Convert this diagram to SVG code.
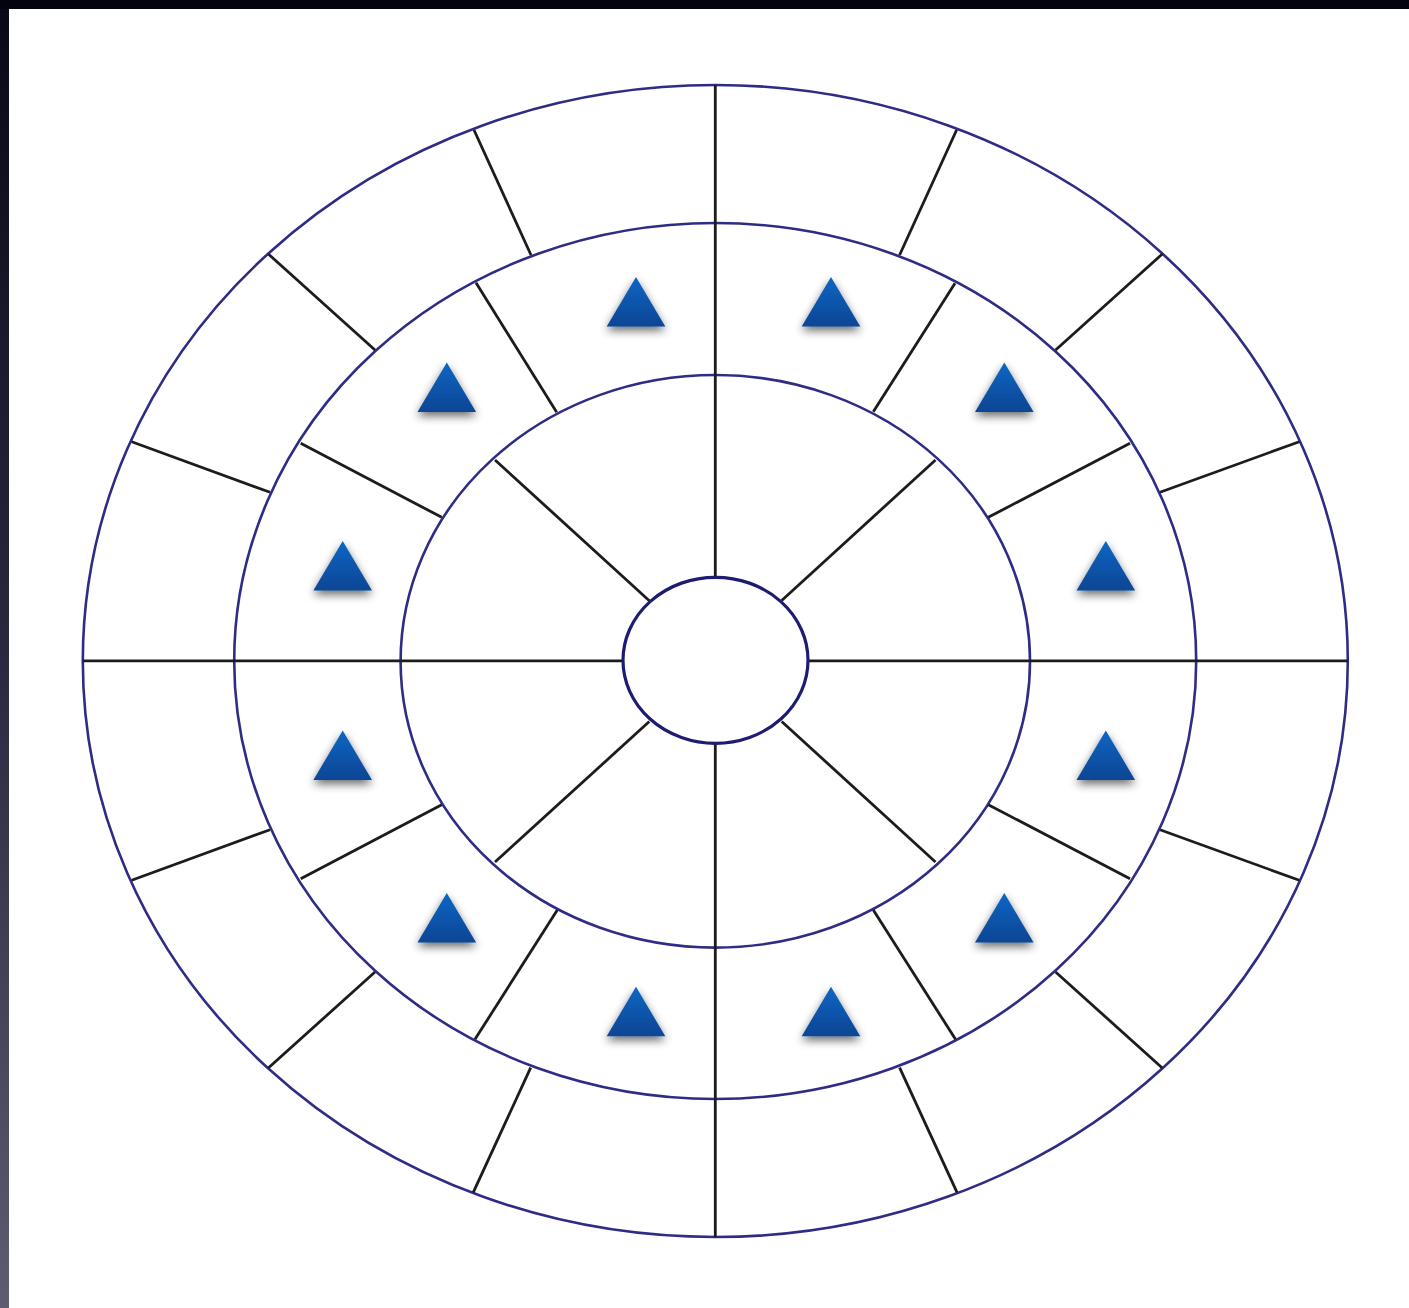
<svg xmlns="http://www.w3.org/2000/svg" width="1409" height="1308" viewBox="0 0 1409 1308">
<defs>
<linearGradient id="side" x1="0" y1="0" x2="0" y2="1">
<stop offset="0" stop-color="#080818"/>
<stop offset="0.5" stop-color="#2a2840"/>
<stop offset="1" stop-color="#5e5c72"/>
</linearGradient>
<linearGradient id="tri" x1="0" y1="0" x2="0" y2="1">
<stop offset="0" stop-color="#0a66c4"/>
<stop offset="1" stop-color="#0a4594"/>
</linearGradient>
<filter id="shadow" x="-50%" y="-50%" width="200%" height="200%">
<feGaussianBlur in="SourceAlpha" stdDeviation="5"/>
<feOffset dx="0" dy="4" result="b"/>
<feComponentTransfer><feFuncA type="linear" slope="0.6"/></feComponentTransfer>
<feMerge><feMergeNode/><feMergeNode in="SourceGraphic"/></feMerge>
</filter>
<polygon id="t" points="0,0 29.3,49.5 -29.3,49.5" fill="url(#tri)"/>
</defs>
<style>
.ring{fill:none;stroke:#2e2c84;stroke-width:2.6}
.core{fill:#fff;stroke:#1e1c70;stroke-width:3.2}
.spoke{stroke:#1c1c1c;stroke-width:2.8;fill:none}
</style>
<rect x="0" y="0" width="1409" height="1308" fill="#fff"/>
<rect x="0" y="0" width="9" height="1308" fill="url(#side)"/>
<rect x="0" y="0" width="1409" height="9" fill="#03030f"/>

<g id="rings">
<ellipse id="ring-outer" class="ring" cx="715.3" cy="661" rx="632.5" ry="576"/>
<ellipse id="ring-middle" class="ring" cx="715.2" cy="661" rx="481" ry="438"/>
<ellipse id="ring-inner" class="ring" cx="715.3" cy="661.3" rx="314.7" ry="286.3"/>
</g>

<g id="connectors" class="spoke">
<line x1="715.3" y1="85" x2="715.3" y2="577"/>
<line x1="715.3" y1="744" x2="715.3" y2="1237"/>
<line x1="82.8" y1="660.8" x2="623" y2="660.8"/>
<line x1="808" y1="660.8" x2="1347.8" y2="660.8"/>
<line x1="649.3" y1="600.7" x2="495" y2="460"/>
<line x1="781.7" y1="600.5" x2="935.5" y2="460"/>
<line x1="649.3" y1="721.5" x2="495" y2="862"/>
<line x1="781.7" y1="721.5" x2="935.5" y2="862"/>
<line x1="441.7" y1="517.3" x2="300.7" y2="443.3"/>
<line x1="556.7" y1="412.3" x2="476" y2="282.7"/>
<line x1="873.3" y1="411.7" x2="955" y2="283.3"/>
<line x1="988.3" y1="517.3" x2="1130" y2="443.3"/>
<line x1="441.7" y1="804.7" x2="300.7" y2="878.7"/>
<line x1="557.3" y1="910" x2="475" y2="1039.3"/>
<line x1="873.3" y1="910" x2="955.5" y2="1039.3"/>
<line x1="988.3" y1="804.7" x2="1130" y2="878.7"/>
<line x1="270" y1="492.3" x2="131.7" y2="441.7"/>
<line x1="375" y1="350" x2="268.3" y2="254"/>
<line x1="531" y1="255" x2="474" y2="130"/>
<line x1="899.6" y1="255" x2="956.6" y2="130"/>
<line x1="1055.6" y1="350" x2="1162.3" y2="254"/>
<line x1="1160" y1="492.3" x2="1299.3" y2="441.7"/>
<line x1="270" y1="829.7" x2="131.7" y2="880.3"/>
<line x1="375" y1="972" x2="268.3" y2="1068"/>
<line x1="530.7" y1="1067.7" x2="473.3" y2="1192.3"/>
<line x1="899.6" y1="1067.7" x2="957" y2="1192.3"/>
<line x1="1055.6" y1="972" x2="1162.3" y2="1068"/>
<line x1="1160" y1="829.7" x2="1299.3" y2="880.3"/>
</g>

<g id="center">
<ellipse class="core" cx="715.5" cy="660.3" rx="92.5" ry="83"/>
</g>

<g id="markers" filter="url(#shadow)">
<g id="m1"><use href="#t" x="636" y="277"/></g>
<g id="m2"><use href="#t" x="831" y="277"/></g>
<g id="m3"><use href="#t" x="446.8" y="362.5"/></g>
<g id="m4"><use href="#t" x="1004.3" y="362.5"/></g>
<g id="m5"><use href="#t" x="342.7" y="541"/></g>
<g id="m6"><use href="#t" x="1105.8" y="541"/></g>
<g id="m7"><use href="#t" x="342.7" y="730.5"/></g>
<g id="m8"><use href="#t" x="1105.8" y="730.5"/></g>
<g id="m9"><use href="#t" x="446.8" y="893"/></g>
<g id="m10"><use href="#t" x="1004.3" y="893"/></g>
<g id="m11"><use href="#t" x="636" y="986.7"/></g>
<g id="m12"><use href="#t" x="831" y="986.7"/></g>
</g>
</svg>
